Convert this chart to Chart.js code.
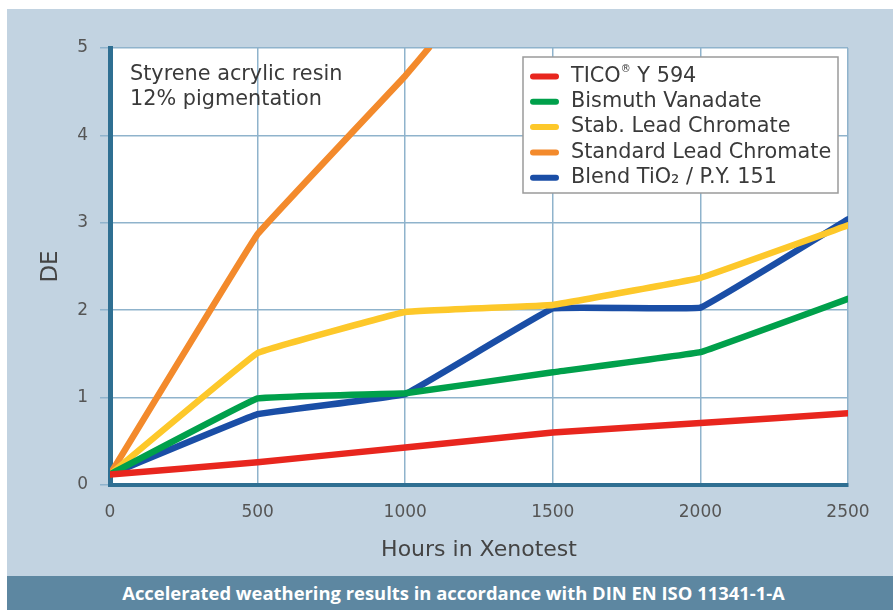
<!DOCTYPE html>
<html>
<head>
<meta charset="utf-8">
<script src="https://cdn.jsdelivr.net/npm/chart.js@4"></script>
<style>
  body { margin: 0; background: #fff; width: 893px; height: 610px; position: relative; overflow: hidden; }
  #panel { position: absolute; left: 7px; top: 9px; width: 886px; height: 567px; background: #c2d3e1; }
  #banner { position: absolute; left: 7px; top: 576px; width: 879px; padding-left: 7px; height: 34px; background: #5d87a1;
    color: #fff; font: bold 18.4px "Open Sans", sans-serif; text-align: center; line-height: 34px; }
</style>
</head>
<body>
<div id="panel"><canvas id="lineChart" width="886" height="567"></canvas></div>
<div id="banner">Accelerated weathering results in accordance with DIN EN ISO 11341-1-A</div>
<script>
// 凡例のラベル
const seriesNames = ['TICO® Y 594', 'Bismuth Vanadate', 'Stab. Lead Chromate', 'Standard Lead Chromate', 'Blend TiO₂ / P.Y. 151'];
// X軸 (Hours)
const hours = [0, 500, 1000, 1500, 2000, 2500];
// Y軸のデータ (DE)
const ticoValues = [0.12, 0.26, 0.43, 0.6, 0.71, 0.82];
const bismuthValues = [0.12, 0.99, 1.05, 1.29, 1.52, 2.13];
const stabValues = [0.12, 1.51, 1.98, 2.06, 2.37, 2.97];
const blendValues = [0.12, 0.81, 1.04, 2.02, 2.03, 3.04];
// Standard Lead Chromate は 5 を超えるので途中で終わる
const standardHours = [0, 500, 1000, 1080];
const standardValues = [0.12, 2.87, 4.68, 5.0];
const lineColors = ['#e8261e', '#00a04b', '#fdc82a', '#f38a2c', '#1a4ea6'];

const xTicks = [0, 500, 1000, 1500, 2000, 2500];
const yTicks = [0, 1, 2, 3, 4, 5];
const noteLines = ['Styrene acrylic resin', '12% pigmentation'];

function toPoints(xs, ys) {
    return xs.map((x, i) => ({ x: x, y: ys[i] }));
}

// ® を小さく上付きで描く
function drawLabel(ctx, text, x, y) {
    const parts = text.split('®');
    ctx.fillText(parts[0], x, y);
    if (parts.length < 2) return;
    let cx = x + ctx.measureText(parts[0]).width;
    const font = ctx.font;
    ctx.font = '10px "DejaVu Sans"';
    ctx.fillText('®', cx, y - 7);
    cx += ctx.measureText('®').width;
    ctx.font = font;
    ctx.fillText(parts[1], cx, y);
}

// グラフ内の注記と凡例を描く
const boxPlugin = {
    id: 'boxPlugin',
    afterDatasetsDraw(chart) {
        const ctx = chart.ctx;
        const area = chart.chartArea;
        ctx.save();
        ctx.fillStyle = '#3a3a3a';
        ctx.font = '20.8px "DejaVu Sans"';
        ctx.textBaseline = 'middle';
        ctx.textAlign = 'left';
        noteLines.forEach((t, i) => ctx.fillText(t, area.left + 20, area.top + 27 + i * 25));

        // 凡例の枠
        const bx = area.right - 325, by = area.top + 9, bw = 315, bh = 136;
        ctx.fillStyle = '#fff';
        ctx.fillRect(bx, by, bw, bh);
        ctx.strokeStyle = '#9a9a9a';
        ctx.lineWidth = 1.5;
        ctx.strokeRect(bx, by, bw, bh);
        chart.data.datasets.forEach((ds, i) => {
            const y = by + 19.5 + i * 25.3;
            ctx.strokeStyle = ds.borderColor;
            ctx.lineWidth = 6;
            ctx.lineCap = 'round';
            ctx.beginPath();
            ctx.moveTo(bx + 10, y);
            ctx.lineTo(bx + 33, y);
            ctx.stroke();
            ctx.fillStyle = '#3a3a3a';
            drawLabel(ctx, ds.label, bx + 48, y);
        });
        ctx.restore();
    }
};

let chart;
function renderChart() {
    const ctx = document.getElementById('lineChart').getContext('2d');
    const allY = [ticoValues, bismuthValues, stabValues, standardValues, blendValues];
    const allX = [hours, hours, hours, standardHours, hours];
    chart = new Chart(ctx, {
        type: 'line',
        data: {
            datasets: seriesNames.map((name, i) => ({
                label: name,
                data: toPoints(allX[i], allY[i]),
                borderColor: lineColors[i],
                backgroundColor: lineColors[i],
                borderWidth: 6.5,
                pointRadius: 0,
                tension: 0.05,
                borderJoinStyle: 'round',
                borderCapStyle: 'round'
            }))
        },
        options: {
            responsive: false,
            animation: false,
            layout: { padding: { left: 0, top: 39, right: 45, bottom: 0 } },
            plugins: {
                legend: { display: false },
                tooltip: { enabled: false }
            },
            scales: {
                x: {
                    type: 'linear',
                    min: 0,
                    max: 2500,
                    afterBuildTicks: s => { s.ticks = xTicks.map(v => ({ value: v })); },
                    afterFit: s => { s.height = 91; },
                    grid: { color: '#8fb3cc', lineWidth: 1.5, drawTicks: false },
                    border: { color: '#2f6f92', width: 4 },
                    ticks: {
                        color: '#555',
                        font: { family: 'DejaVu Sans', size: 17 },
                        padding: 17,
                        callback: v => String(v)
                    },
                    title: {
                        display: true,
                        text: 'Hours in Xenotest',
                        color: '#444',
                        font: { family: 'DejaVu Sans', size: 22 },
                        padding: { top: 0, bottom: 13 }
                    }
                },
                y: {
                    min: 0,
                    max: 5,
                    afterBuildTicks: s => { s.ticks = yTicks.map(v => ({ value: v })); },
                    afterFit: s => { s.width = 103; },
                    grid: { color: '#8fb3cc', lineWidth: 1.5, tickLength: 10 },
                    border: { color: '#2f6f92', width: 5 },
                    ticks: { color: '#555', font: { family: 'DejaVu Sans', size: 17 }, padding: 12 },
                    title: {
                        display: true,
                        text: 'DE',
                        color: '#444',
                        font: { family: 'DejaVu Sans', size: 23 },
                        padding: { top: 30, bottom: 0 }
                    }
                }
            }
        },
        plugins: [{
            id: 'whiteArea',
            beforeDraw(c) {
                const a = c.chartArea;
                c.ctx.fillStyle = '#ffffff';
                c.ctx.fillRect(a.left, a.top, a.right - a.left, a.bottom - a.top);
            }
        }, boxPlugin]
    });
}

renderChart();
</script>
</body>
</html>
